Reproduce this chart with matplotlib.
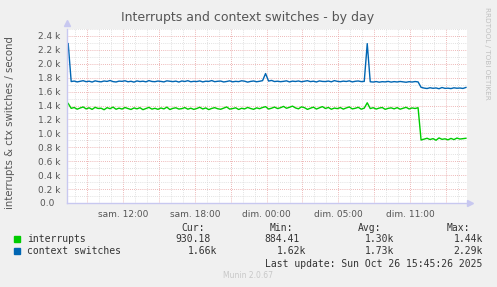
import matplotlib
matplotlib.use("Agg")
import matplotlib.pyplot as plt
import numpy as np

# samples every 15 min, hours counted from sam. 00:00 (clock goes back 1h on dim.)
t_start = 7.42
step = 0.25

ctx = [2290,
       1745, 1752, 1740, 1748, 1757, 1743, 1750, 1738, 1755, 1746,
       1741, 1753, 1747, 1760, 1744, 1739, 1751, 1748, 1756, 1742,
       1749, 1737, 1754, 1745, 1750, 1741, 1758, 1746, 1743, 1752,
       1747, 1740, 1755, 1749, 1744, 1751, 1738, 1753, 1746, 1757,
       1742, 1748, 1745, 1754, 1740, 1750, 1747, 1759, 1743, 1749,
       1752, 1739, 1746, 1755, 1741, 1748, 1744, 1756, 1750, 1737,
       1747, 1753, 1742, 1749, 1758,
       1860,
       1752, 1761, 1745, 1750,
       1743, 1748, 1755, 1740, 1751, 1746, 1753, 1742, 1749, 1757,
       1744, 1750, 1739, 1754, 1747, 1745, 1752, 1741, 1758, 1748,
       1743, 1751, 1746, 1755, 1740, 1749, 1753, 1744, 1747,
       2290,
       1742, 1738, 1745, 1736, 1743, 1740, 1747, 1737, 1744, 1739,
       1746, 1741, 1735, 1743, 1738, 1745, 1740,
       1662, 1651, 1645, 1656, 1648, 1653, 1642, 1659, 1647, 1650,
       1644, 1655, 1649, 1652, 1646, 1660]

irq = [1430,
       1360, 1372, 1348, 1365, 1380, 1352, 1368, 1345, 1375, 1358,
       1362, 1340, 1370, 1355, 1378, 1347, 1363, 1350, 1372, 1357,
       1344, 1366, 1353, 1369, 1341, 1358, 1374, 1349, 1361, 1346,
       1365, 1352, 1377, 1343, 1360, 1368, 1350, 1356, 1371, 1348,
       1362, 1345, 1358, 1375, 1351, 1366, 1342, 1359, 1370, 1354,
       1347, 1363, 1380, 1349, 1357, 1368, 1344, 1361, 1352, 1373,
       1358, 1346, 1367, 1355, 1372, 1384, 1350, 1362, 1378, 1357,
       1369, 1388, 1361, 1375, 1392, 1366, 1353, 1381, 1370, 1345,
       1362, 1377, 1350, 1368, 1385, 1358, 1373, 1347, 1364, 1356,
       1371, 1349, 1366, 1380, 1352, 1361, 1375, 1348, 1363,
       1440,
       1357, 1369, 1350, 1364, 1372, 1346, 1360, 1367, 1353, 1370,
       1348, 1362, 1375, 1351, 1366, 1358, 1369,
       905, 918, 930, 912, 925, 902, 935, 915, 922, 908,
       928, 911, 933, 919, 924, 930]

tick_pos = [12, 18, 24, 30, 36]
tick_lab = ["sam. 12:00", "sam. 18:00", "dim. 00:00", "dim. 05:00", "dim. 11:00"]

legend_names = ["interrupts", "context switches"]
legend_cols = ["#00CC00", "#0066B3"]
cur = ["930.18", "1.66k"]
mins = ["884.41", "1.62k"]
avgs = ["1.30k", "1.73k"]
maxs = ["1.44k", "2.29k"]

t = t_start + step * np.arange(len(ctx))

W, H = 497, 287
fig = plt.figure(figsize=(W / 100, H / 100), dpi=100, facecolor="#F0F0F0")
ax = fig.add_axes([67 / W, 1 - 203 / H, 400 / W, 174 / H])
ax.set_facecolor("white")
x0 = t_start - 0.1

# grid
for h in np.arange(8, 41, 1):
    c = "#e8a0a0" if h % 3 == 0 else "#d8d8d8"
    ax.axvline(h, color=c, lw=0.6, ls=(0, (1, 1.5)), zorder=1)
for v in np.arange(100, 2501, 100):
    c = "#e8a0a0" if v % 200 == 0 else "#d8d8d8"
    ax.axhline(v, color=c, lw=0.6, ls=(0, (1, 1.5)), zorder=1)

ax.plot(t, irq, color=legend_cols[0], lw=1.0, zorder=3)
ax.plot(t, ctx, color=legend_cols[1], lw=1.0, zorder=3)

ax.set_xlim(x0, 40.76)
ax.set_ylim(0, 2500)
for s in ax.spines.values():
    s.set_visible(False)

# axis lines with arrows
axc = "#c8c8f0"
ax.plot([x0, x0], [0, 2500], color=axc, lw=1, zorder=4, clip_on=False)
ax.plot([x0, 40.76], [0, 0], color=axc, lw=1, zorder=4, clip_on=False)
ax.plot([x0], [2580], marker="^", ms=4, color=axc, clip_on=False, zorder=4)
ax.plot([41.0], [0], marker=">", ms=4, color=axc, clip_on=False, zorder=4)

ax.set_xticks(tick_pos)
ax.set_xticklabels(tick_lab)
yt = np.arange(0, 2401, 200)
ax.set_yticks(yt)
ax.set_yticklabels(["0.0  "] + ["%.1f k" % (v / 1000) for v in yt[1:]])
ax.tick_params(length=0, labelsize=6.5, colors="#555555", pad=5)

fig.text(10 / W, 1 - 123 / H, "interrupts & ctx switches / second", rotation=90,
         ha="center", va="center", fontsize=7.3, color="#555555")

fig.text(248 / W, 1 - 18 / H, "Interrupts and context switches - by day",
         ha="center", va="center", fontsize=9, color="#555555")
fig.text(487 / W, 1 - 53 / H, "RRDTOOL / TOBI OETIKER", rotation=270,
         ha="center", va="center", fontsize=5.2, color="#c0c0c0")

mono = "DejaVu Sans Mono"
fs = 7
tc = "#333333"
fig.text(181 / W, 1 - 228 / H, "Cur:", family=mono, fontsize=fs, color=tc, va="center")
fig.text(270 / W, 1 - 228 / H, "Min:", family=mono, fontsize=fs, color=tc, va="center")
fig.text(358 / W, 1 - 228 / H, "Avg:", family=mono, fontsize=fs, color=tc, va="center")
fig.text(447 / W, 1 - 228 / H, "Max:", family=mono, fontsize=fs, color=tc, va="center")

rows_y = [239, 251]
cur_x = [211, 217]
min_x = [300, 306]
for i in range(2):
    y = 1 - rows_y[i] / H
    fig.patches.append(plt.Rectangle((14 / W, y - 3 / H), 6 / W, 6 / H,
                                     transform=fig.transFigure, color=legend_cols[i]))
    fig.text(27 / W, y, legend_names[i], family=mono, fontsize=fs, color=tc, va="center")
    fig.text(cur_x[i] / W, y, cur[i], family=mono, fontsize=fs, color=tc, va="center", ha="right")
    fig.text(min_x[i] / W, y, mins[i], family=mono, fontsize=fs, color=tc, va="center", ha="right")
    fig.text(394 / W, y, avgs[i], family=mono, fontsize=fs, color=tc, va="center", ha="right")
    fig.text(483 / W, y, maxs[i], family=mono, fontsize=fs, color=tc, va="center", ha="right")

fig.text(482 / W, 1 - 264 / H, "Last update: Sun Oct 26 15:45:26 2025", family=mono,
         fontsize=fs, color=tc, va="center", ha="right")
fig.text(248 / W, 1 - 276 / H, "Munin 2.0.67", fontsize=5.5, color="#c8c8c8",
         ha="center", va="center")

fig.savefig("out.png", dpi=100, facecolor=fig.get_facecolor())
